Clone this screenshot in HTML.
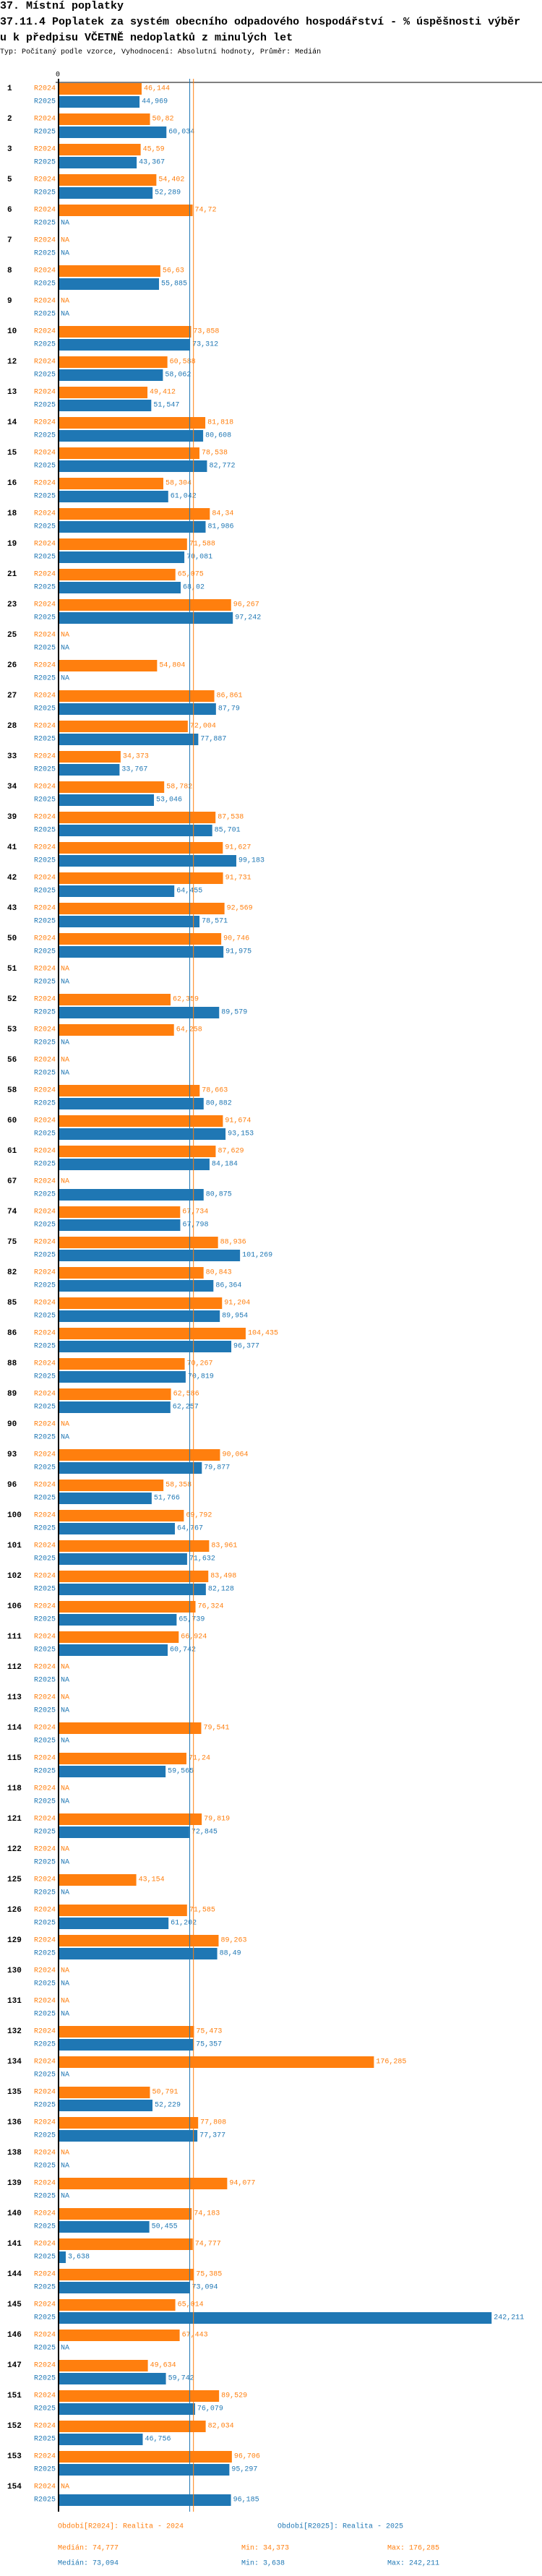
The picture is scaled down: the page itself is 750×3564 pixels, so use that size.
<!DOCTYPE html>
<html><head><meta charset="utf-8">
<style>
html,body{margin:0;padding:0;background:#fff;}
body{width:750px;height:3564px;overflow:hidden;position:relative;font-family:"Liberation Mono",monospace;}
.t{position:absolute;left:0;white-space:nowrap;font-weight:bold;font-size:15px;color:#000;}
.s{position:absolute;left:0;top:67px;white-space:nowrap;font-size:10px;color:#000;}
svg{position:absolute;left:0;top:0;}
</style></head><body>
<div class="t" style="top:0px">37. Místní poplatky</div>
<div class="t" style="top:22px">37.11.4 Poplatek za systém obecního odpadového hospodářství  - % úspěšnosti výběr</div>
<div class="t" style="top:44px">u k předpisu VČETNĚ nedoplatků z minulých let</div>
<div class="s">Typ: Počítaný podle vzorce, Vyhodnocení: Absolutní hodnoty, Průměr: Medián</div>
<svg id="chart" width="750" height="3564"></svg>
<script>
const categories = ["1","2","3","5","6","7","8","9","10","12","13","14","15","16","18","19","21","23","25","26","27","28","33","34","39","41","42","43","50","51","52","53","56","58","60","61","67","74","75","82","85","86","88","89","90","93","96","100","101","102","106","111","112","113","114","115","118","121","122","125","126","129","130","131","132","134","135","136","138","139","140","141","144","145","146","147","151","152","153","154"];
const values2024 = [46.144,50.82,45.59,54.402,74.72,null,56.63,null,73.858,60.588,49.412,81.818,78.538,58.304,84.34,71.588,65.075,96.267,null,54.804,86.861,72.004,34.373,58.782,87.538,91.627,91.731,92.569,90.746,null,62.359,64.258,null,78.663,91.674,87.629,null,67.734,88.936,80.843,91.204,104.435,70.267,62.586,null,90.064,58.358,69.792,83.961,83.498,76.324,66.924,null,null,79.541,71.24,null,79.819,null,43.154,71.585,89.263,null,null,75.473,176.285,50.791,77.808,null,94.077,74.183,74.777,75.385,65.014,67.443,49.634,89.529,82.034,96.706,null];
const values2025 = [44.969,60.034,43.367,52.289,null,null,55.885,null,73.312,58.062,51.547,80.608,82.772,61.042,81.986,70.081,68.02,97.242,null,null,87.79,77.887,33.767,53.046,85.701,99.183,64.455,78.571,91.975,null,89.579,null,null,80.882,93.153,84.184,80.875,67.798,101.269,86.364,89.954,96.377,70.819,62.257,null,79.877,51.766,64.767,71.632,82.128,65.739,60.742,null,null,null,59.565,null,72.845,null,null,61.202,88.49,null,null,75.357,null,52.229,77.377,null,null,50.455,3.638,73.094,242.211,null,59.742,76.079,46.756,95.297,96.185];
const median2024 = 74.777, median2025 = 73.094;
const stats = [["Medián: 74,777","Min: 34,373","Max: 176,285"],["Medián: 73,094","Min: 3,638","Max: 242,211"]];

const NS="http://www.w3.org/2000/svg";
const svg=document.getElementById('chart');
const X0=82, SCALE=2.47, Y0=123, PITCH=42;
const ORANGE="#ff7f0e", BLUE="#1f77b4";
const x=v=>X0+v*SCALE;
const yRow=i=>Y0+i*PITCH;
const fmt=v=>String(v).replace('.',',');
function mk(tag,attrs){const e=document.createElementNS(NS,tag);for(const k in attrs)e.setAttribute(k,attrs[k]);svg.appendChild(e);return e;}
function txt(s,xx,yy,attrs){const e=mk('text',Object.assign({x:xx,y:yy,'dominant-baseline':'central','font-family':'Liberation Mono, monospace','font-size':10},attrs));e.textContent=s;return e;}

const yEnd=yRow(categories.length-1)+34;
let e;
e=mk('line',{x1:77,y1:114,x2:750,y2:114,stroke:'#000','stroke-width':1});


e=txt('0',80,104,{'text-anchor':'middle'});



categories.forEach((c,i)=>{
  const yc=yRow(i);
  e=txt(c,10,yc,{'font-weight':'bold','font-size':11});
  
  
  [[values2024[i],'R2024',ORANGE,yc-8,yc],[values2025[i],'R2025',BLUE,yc+10,yc+18]].forEach(([v,lab,col,top,mid])=>{
    e=txt(lab,77,mid,{fill:col,'text-anchor':'end'});
    
    
    if(v===null){
      e=txt('NA',84,mid,{fill:col});
      
      
    } else {
      e=mk('rect',{x:X0,y:top,width:x(v)-X0,height:16,fill:col});
      
      
      e=txt(fmt(v),x(v)+3,mid,{fill:col});
      
      
    }
  });
});
e=mk('line',{x1:x(median2025),y1:109,x2:x(median2025),y2:yEnd,stroke:BLUE,'stroke-width':1});


e=mk('line',{x1:x(median2024)+1,y1:109,x2:x(median2024)+1,y2:yEnd,stroke:ORANGE,'stroke-width':1});


e=mk('line',{x1:81,y1:109,x2:81,y2:yEnd,stroke:'#000','stroke-width':2});



e=txt('Období[R2024]: Realita - 2024',80,3496,{fill:ORANGE});


e=txt('Období[R2025]: Realita - 2025',384,3496,{fill:BLUE});


const sx=[80,334,536];
stats.forEach((row,r)=>row.forEach((s,k)=>{
  e=txt(s,sx[k],r===0?3526:3547,{fill:r===0?ORANGE:BLUE});
  
  
}));
</script>
</body></html>
